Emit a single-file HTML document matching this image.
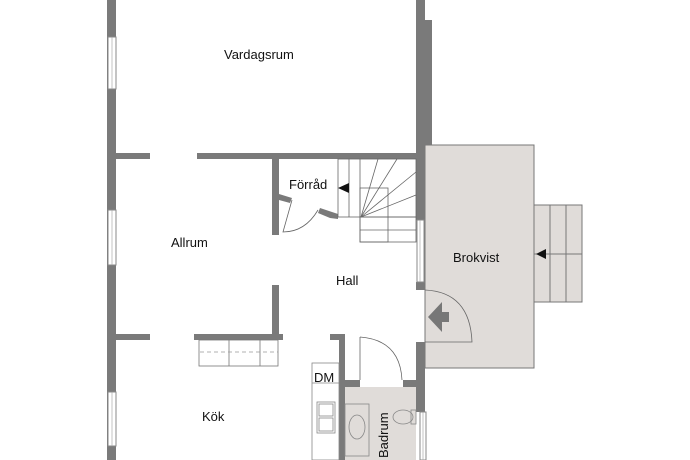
<!DOCTYPE html>
<html><head><meta charset="utf-8"><style>
html,body{margin:0;padding:0;background:#fff}
svg{display:block}
text{font-family:"Liberation Sans",sans-serif;font-size:13px;fill:#111}
</style></head><body>
<svg width="690" height="460" viewBox="0 0 690 460" xmlns="http://www.w3.org/2000/svg">
<!-- floors -->
<rect x="425" y="145" width="109" height="223" fill="#e0dcd9" stroke="#777" stroke-width="1"/>
<rect x="534" y="205" width="48" height="97" fill="#e0dcd9" stroke="#777" stroke-width="1"/>
<line x1="550" y1="205" x2="550" y2="302" stroke="#777"/>
<line x1="566" y1="205" x2="566" y2="302" stroke="#777"/>
<line x1="534" y1="254" x2="582" y2="254" stroke="#777"/>
<polygon points="536,254 546,249 546,259" fill="#111"/>
<rect x="345" y="387" width="71" height="73" fill="#e0dcd9"/>
<!-- walls -->
<g fill="#7a7a7a">
<rect x="107" y="0" width="9" height="460"/>
<rect x="416" y="0" width="9" height="220"/>
<rect x="425" y="20" width="7" height="125"/>
<rect x="116" y="153" width="34" height="6"/>
<rect x="197" y="153" width="219" height="6"/>
<rect x="272" y="159" width="7" height="76"/>
<rect x="272" y="285" width="7" height="55"/>
<rect x="194" y="334" width="89" height="6"/>
<rect x="116" y="334" width="34" height="6"/>
<rect x="416" y="282" width="9" height="8"/>
<rect x="416" y="342" width="9" height="70"/>
<rect x="339" y="334" width="6" height="126"/>
<rect x="330" y="334" width="15" height="6"/>
<rect x="339" y="380" width="21" height="7"/>
<rect x="403" y="380" width="17" height="7"/>
</g>
<!-- windows -->
<g fill="#fff" stroke="#888" stroke-width="1">
<rect x="108" y="37" width="8" height="52"/>
<rect x="108" y="210" width="8" height="55"/>
<rect x="108" y="392" width="8" height="54"/>
<rect x="417" y="220" width="7" height="62"/>
<rect x="420" y="412" width="6" height="48"/>
</g>
<g stroke="#aaa" stroke-width="0.7">
<line x1="112" y1="37" x2="112" y2="89"/><line x1="112" y1="210" x2="112" y2="265"/><line x1="112" y1="392" x2="112" y2="446"/>
<line x1="420" y1="220" x2="420" y2="282"/><line x1="423" y1="412" x2="423" y2="460"/>
</g>
<!-- Förråd door -->
<g fill="#7a7a7a"><polygon points="279,194 292,198 290,203 279,200"/><polygon points="320,208 332,212 338,214 338,219 330,218 318,213"/></g>
<path d="M292,200 L283,232 Q305,232 318,210" fill="none" stroke="#666" stroke-width="0.8"/>
<!-- stairs -->
<g fill="none" stroke="#666" stroke-width="0.8">
<rect x="338" y="159" width="78" height="58"/>
<line x1="349" y1="159" x2="349" y2="217"/><line x1="360" y1="159" x2="360" y2="217"/>
<rect x="360" y="188" width="28" height="54"/>
<rect x="360" y="217" width="56" height="25"/>
<line x1="388" y1="230" x2="416" y2="230"/><line x1="360" y1="230" x2="388" y2="230"/>
<line x1="361" y1="217" x2="378" y2="159"/><line x1="361" y1="217" x2="397" y2="159"/>
<line x1="361" y1="217" x2="416" y2="172"/><line x1="361" y1="217" x2="416" y2="195"/>
</g>
<polygon points="338,188 349,183 349,193" fill="#111"/>
<!-- Brokvist door -->
<path d="M425,290 Q470,292 472,342 L425,342" fill="none" stroke="#666" stroke-width="0.8"/>
<polygon points="428,317 442,302 442,312 449,312 449,322 442,322 442,332" fill="#777"/>
<!-- cabinet -->
<g fill="none" stroke="#777" stroke-width="0.8">
<rect x="199" y="340" width="79" height="26"/>
<line x1="229" y1="340" x2="229" y2="366"/><line x1="260" y1="340" x2="260" y2="366"/>
<line x1="200" y1="352" x2="278" y2="352" stroke-dasharray="4,3" stroke="#999"/>
</g>
<!-- hall door -->
<path d="M360,337 L360,380 M360,337 Q400,340 402,380" fill="none" stroke="#666" stroke-width="0.8"/>
<!-- kitchen counter -->
<g fill="none" stroke="#888" stroke-width="0.8">
<rect x="312" y="363" width="27" height="97"/>
<line x1="312" y1="383" x2="339" y2="383"/>
<rect x="317" y="402" width="18" height="31"/>
<rect x="319" y="404" width="14" height="12"/><rect x="319" y="418" width="14" height="13"/>
<rect x="345" y="404" width="24" height="52"/>
<ellipse cx="357" cy="427" rx="8" ry="12"/>
<ellipse cx="403" cy="417" rx="10" ry="7"/>
<rect x="411" y="410" width="5" height="14"/>
</g>
<text x="224" y="59">Vardagsrum</text>
<text x="289" y="189">Förråd</text>
<text x="171" y="247">Allrum</text>
<text x="336" y="285">Hall</text>
<text x="453" y="262">Brokvist</text>
<text x="314" y="382">DM</text>
<text x="202" y="421">Kök</text>
<text x="0" y="0" transform="translate(388,458) rotate(-90)">Badrum</text>
</svg>
</body></html>
